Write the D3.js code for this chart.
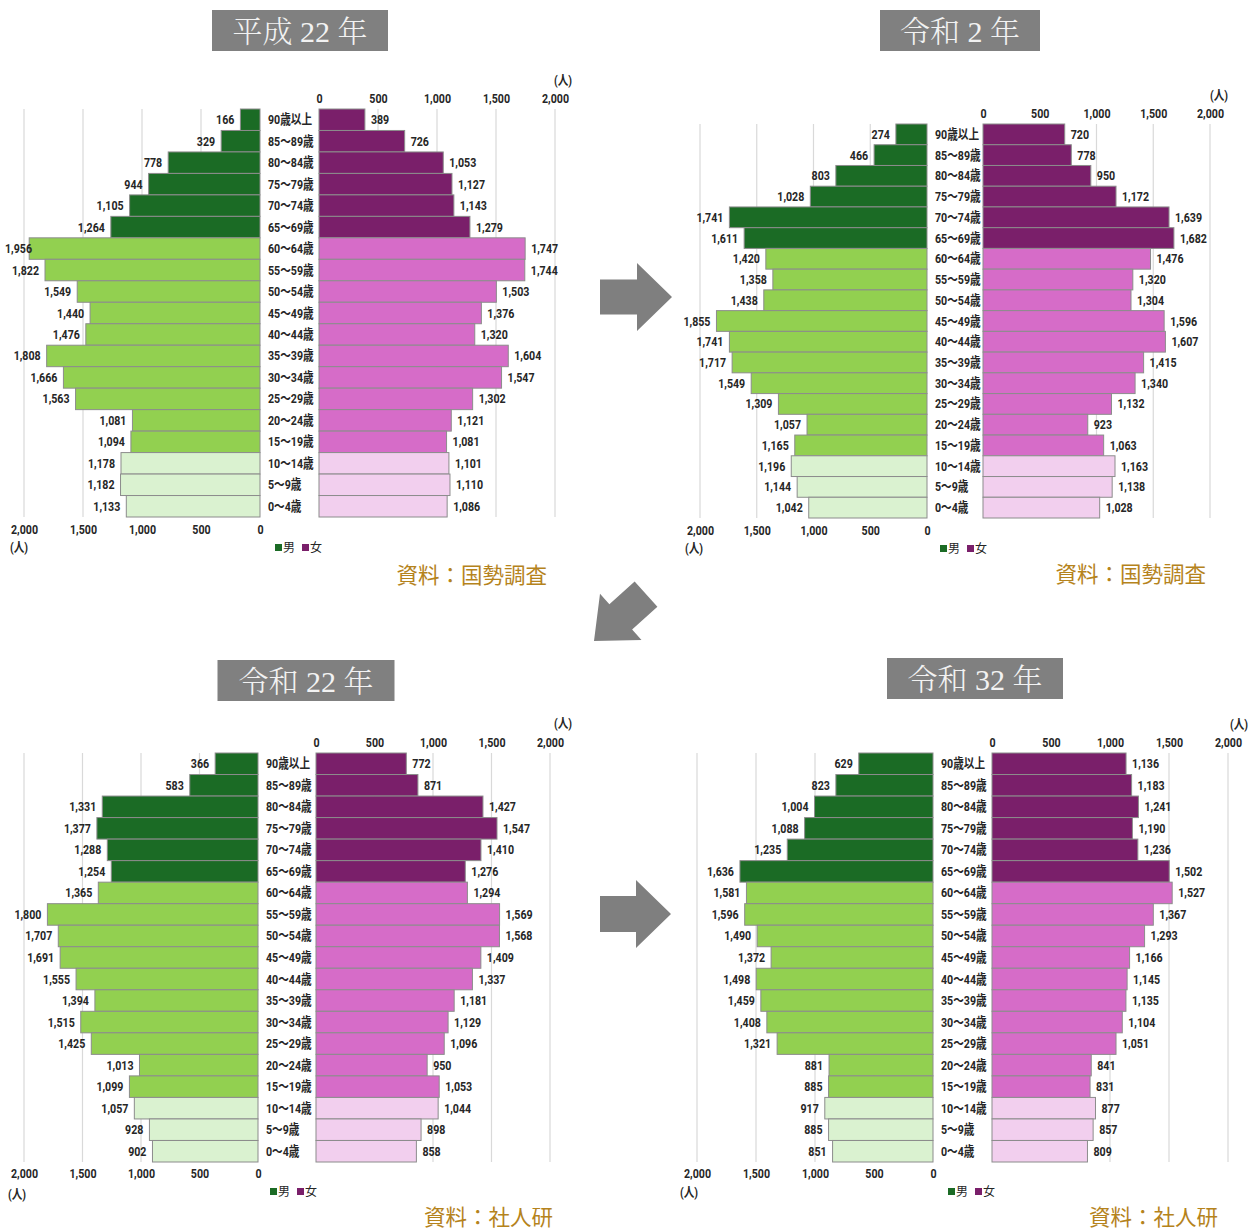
<!DOCTYPE html>
<html><head><meta charset="utf-8">
<script src="https://cdn.jsdelivr.net/npm/d3@7"></script>
<style>
body{margin:0;background:#fff;}
svg{display:block;}
.num{font-family:Roboto,"Noto Sans CJK JP",sans-serif;font-weight:bold;font-size:13.3px;fill:#262626;}
</style>
</head><body>
<script>
// ---- data ----
const ageGroups = ["90歳以上","85～89歳","80～84歳","75～79歳","70～74歳","65～69歳","60～64歳","55～59歳","50～54歳","45～49歳","40～44歳","35～39歳","30～34歳","25～29歳","20～24歳","15～19歳","10～14歳","5～9歳","0～4歳"];
const tickValues = [0, 500, 1000, 1500, 2000];
const panelTitles = ["平成 22 年", "令和 2 年", "令和 22 年", "令和 32 年"];
const panelSources = ["資料：国勢調査", "資料：国勢調査", "資料：社人研", "資料：社人研"];

const maleH22   = [166,329,778,944,1105,1264,1956,1822,1549,1440,1476,1808,1666,1563,1081,1094,1178,1182,1133];
const femaleH22 = [389,726,1053,1127,1143,1279,1747,1744,1503,1376,1320,1604,1547,1302,1121,1081,1101,1110,1086];
const maleR2    = [274,466,803,1028,1741,1611,1420,1358,1438,1855,1741,1717,1549,1309,1057,1165,1196,1144,1042];
const femaleR2  = [720,778,950,1172,1639,1682,1476,1320,1304,1596,1607,1415,1340,1132,923,1063,1163,1138,1028];
const maleR22   = [366,583,1331,1377,1288,1254,1365,1800,1707,1691,1555,1394,1515,1425,1013,1099,1057,928,902];
const femaleR22 = [772,871,1427,1547,1410,1276,1294,1569,1568,1409,1337,1181,1129,1096,950,1053,1044,898,858];
const maleR32   = [629,823,1004,1088,1235,1636,1581,1596,1490,1372,1498,1459,1408,1321,881,885,917,885,851];
const femaleR32 = [1136,1183,1241,1190,1236,1502,1527,1367,1293,1166,1145,1135,1104,1051,841,831,877,857,809];

// ---- styles ----
const maleColors   = {old:"#1b6b25", work:"#92d050", young:"#daf2d0"};
const femaleColors = {old:"#7a1f6a", work:"#d66cc8", young:"#f2cfee"};
function band(i){ return i < 6 ? "old" : (i < 16 ? "work" : "young"); }
const SX = 0.8; // horizontal condensing of label font

const layouts = [
  {x0L:260, x0R:319, w:236, yTop:109, yBot:517, topY:98,  botY:529, uTop:[572,80],  uBot:[10,547],  leg:[275,547], src:[547,576], t:{cx:300,y:10,w:176,h:41}},
  {x0L:927, x0R:983, w:227, yTop:124, yBot:518, topY:113, botY:530, uTop:[1228,95], uBot:[685,548], leg:[940,548], src:[1206,575], t:{cx:960,y:10,w:160,h:41}},
  {x0L:258, x0R:316, w:234, yTop:753, yBot:1162,topY:742, botY:1173,uTop:[572,723], uBot:[8,1194],  leg:[270,1191],src:[553,1218], t:{cx:306,y:660,w:177,h:41}},
  {x0L:933, x0R:992, w:236, yTop:753, yBot:1162,topY:742, botY:1173,uTop:[1248,724],uBot:[680,1192],leg:[948,1191],src:[1218,1218], t:{cx:975,y:658,w:176,h:41}}
];
const panelData = [[maleH22,femaleH22],[maleR2,femaleR2],[maleR22,femaleR22],[maleR32,femaleR32]];

const svg = d3.select("body").append("svg").attr("width",1258).attr("height",1231);
const fmt = d3.format(",");
function tr(x,y){ return `translate(${x},${y}) scale(${SX},1)`; }

layouts.forEach((L, p) => {
  const [male, female] = panelData[p];
  const g = svg.append("g");
  const xL = d3.scaleLinear().domain([0,2000]).range([L.x0L, L.x0L - L.w]);
  const xR = d3.scaleLinear().domain([0,2000]).range([L.x0R, L.x0R + L.w]);
  const y = d3.scaleBand().domain(ageGroups).range([L.yTop, L.yBot]).padding(0);
  const cy = i => y(ageGroups[i]) + y.bandwidth()/2 + 4.5;

  // gridlines
  g.selectAll(".gl").data(tickValues.filter(d=>d>0)).join("line")
    .attr("x1",d=>xL(d)).attr("x2",d=>xL(d)).attr("y1",L.yTop).attr("y2",L.yBot)
    .attr("stroke","#d9d9d9").attr("stroke-width",1.2);
  g.selectAll(".gr").data(tickValues.filter(d=>d>0)).join("line")
    .attr("x1",d=>xR(d)).attr("x2",d=>xR(d)).attr("y1",L.yTop).attr("y2",L.yBot)
    .attr("stroke","#d9d9d9").attr("stroke-width",1.2);

  // bars
  g.selectAll(".bm").data(male).join("rect")
    .attr("x",d=>xL(d)).attr("width",d=>xL(0)-xL(d))
    .attr("y",(d,i)=>y(ageGroups[i])).attr("height",y.bandwidth())
    .attr("fill",(d,i)=>maleColors[band(i)]).attr("stroke","#8c8c8c").attr("stroke-width",1);
  g.selectAll(".bf").data(female).join("rect")
    .attr("x",xR(0)).attr("width",d=>xR(d)-xR(0))
    .attr("y",(d,i)=>y(ageGroups[i])).attr("height",y.bandwidth())
    .attr("fill",(d,i)=>femaleColors[band(i)]).attr("stroke","#8c8c8c").attr("stroke-width",1);

  // value labels
  g.selectAll(".vm").data(male).join("text").attr("class","num")
    .attr("text-anchor","end").text(d=>fmt(d))
    .attr("transform",function(d,i){
      const w = this.getComputedTextLength()*SX;
      const x = Math.max(xL(d)-6, 5 + w);
      return tr(x, cy(i));
    });
  g.selectAll(".vf").data(female).join("text").attr("class","num")
    .attr("text-anchor","start").text(d=>fmt(d))
    .attr("transform",(d,i)=>tr(xR(d)+6, cy(i)));

  // category labels
  g.selectAll(".cat").data(ageGroups).join("text").attr("class","num")
    .text(d=>d).attr("transform",(d,i)=>tr(L.x0L+8, cy(i)));

  // axes
  const axT = g.append("g").attr("transform",`translate(0,${L.topY+4.5})`)
    .call(d3.axisTop(xR).tickValues(tickValues).tickFormat(fmt).tickSize(0).tickPadding(0));
  const axB = g.append("g").attr("transform",`translate(0,${L.botY+4.5})`)
    .call(d3.axisBottom(xL).tickValues(tickValues).tickFormat(fmt).tickSize(0).tickPadding(0));
  [axT, axB].forEach(a => {
    a.select(".domain").remove();
    a.selectAll("text").attr("class","num").attr("dy",null).attr("y",0).attr("fill",null)
      .attr("transform",`scale(${SX},1)`);
    a.attr("font-family",null).attr("font-size",null);
  });

  // unit labels
  g.append("text").attr("class","num").attr("text-anchor","end").attr("transform",tr(L.uTop[0],L.uTop[1]+4.5)).text("(人)");
  g.append("text").attr("class","num").attr("transform",tr(L.uBot[0],L.uBot[1]+4.5)).text("(人)");

  // legend
  const lg = g.append("g").attr("transform",`translate(${L.leg[0]},${L.leg[1]})`);
  lg.append("rect").attr("x",0).attr("y",-3).attr("width",7).attr("height",7).attr("fill",maleColors.old);
  lg.append("text").attr("x",8).attr("y",5).style("font-family","'Noto Sans CJK JP',sans-serif").style("font-size","12px").attr("fill","#262626").text("男");
  lg.append("rect").attr("x",27).attr("y",-3).attr("width",7).attr("height",7).attr("fill",femaleColors.old);
  lg.append("text").attr("x",35).attr("y",5).style("font-family","'Noto Sans CJK JP',sans-serif").style("font-size","12px").attr("fill","#262626").text("女");

  // source
  g.append("text").attr("x",L.src[0]).attr("y",L.src[1]+7).attr("text-anchor","end")
    .style("font-family","'Noto Sans CJK JP',sans-serif").style("font-size","21.5px").attr("fill","#b5831c").text(panelSources[p]);

  // title box
  g.append("rect").attr("x",L.t.cx-L.t.w/2).attr("y",L.t.y).attr("width",L.t.w).attr("height",L.t.h).attr("fill","#808080");
  g.append("text").attr("x",L.t.cx).attr("y",L.t.y+32).attr("text-anchor","middle")
    .style("font-family","'Liberation Serif','Noto Serif CJK JP','Noto Sans CJK JP',serif").style("font-size","30px")
    .style("font-weight","300").attr("fill","#f2f2f2").text(panelTitles[p]);
});

// arrows
function arrow(tx, ty, rot, len, hl, hw, sw){
  const pts = [[0,0],[-hl,-hw],[-hl,-sw],[-len,-sw],[-len,sw],[-hl,sw],[-hl,hw]];
  svg.append("polygon").attr("points", pts.map(p=>p.join(",")).join(" "))
    .attr("transform",`translate(${tx},${ty}) rotate(${rot})`).attr("fill","#7f7f7f");
}
arrow(672, 297, 0, 72, 35, 34, 17.5);
arrow(671, 914, 0, 71, 35, 34, 18);
arrow(594, 641, 138, 70, 36, 31, 17);
</script>
</body></html>
